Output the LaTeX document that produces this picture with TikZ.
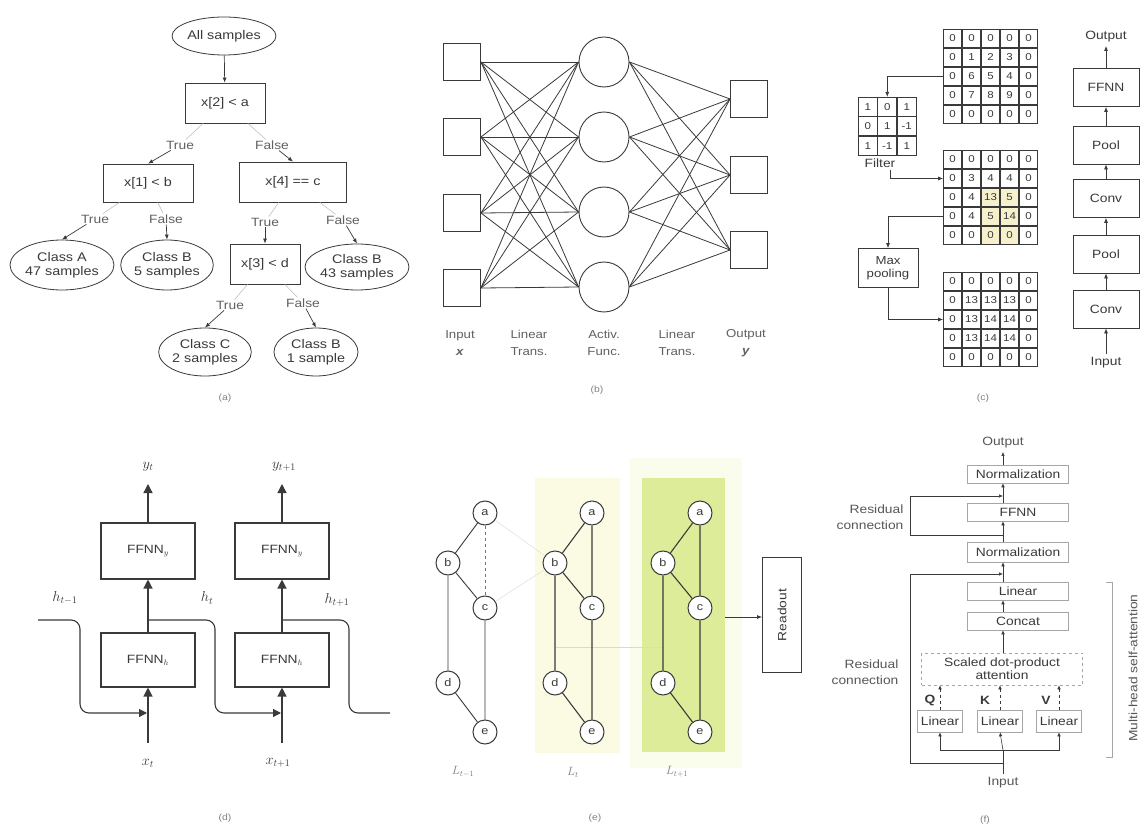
\documentclass[tikz,border=0pt]{standalone}
\usepackage{fontspec}
\setmainfont{Liberation Sans}[FakeStretch=1.15]
\usetikzlibrary{arrows.meta,shapes.geometric,calc}
\definecolor{ink}{HTML}{3A3A3A}
\definecolor{lightyel}{HTML}{FBFBE4}
\definecolor{lime}{HTML}{DDEC98}
\definecolor{limeglow}{HTML}{FAFCEC}
\definecolor{hlc}{HTML}{F6F1CC}
\begin{document}
\begin{tikzpicture}[x=1pt,y=-1pt,
  every node/.style={text=ink},
  tb/.style={draw=ink, line width=0.8pt, inner sep=0pt, align=center, font=\fontsize{12.5}{14}\selectfont},
  el/.style={ellipse, draw=ink, line width=0.8pt, inner sep=0pt, align=center, font=\fontsize{12.5}{14}\selectfont},
  tl/.style={inner sep=1pt, font=\fontsize{12}{14}\selectfont, text=ink!80},
  arr/.style={draw=ink, line width=0.7pt, -{Latex[length=5pt,width=4pt]}},
  fnt/.style={draw=gray!55, line width=0.5pt},
  sq/.style={draw=ink, line width=0.9pt, minimum size=37pt, inner sep=0pt},
  neu/.style={circle, draw=ink, line width=0.9pt, minimum size=50pt, inner sep=0pt},
  wire/.style={draw=ink, line width=0.8pt},
  capt/.style={align=center, font=\fontsize{11.5}{17}\selectfont, text=ink!80},
  gcell/.style={draw=ink, line width=0.6pt, minimum size=18pt, inner sep=0pt, font=\fontsize{10}{10}\selectfont},
  cbox/.style={draw=ink, line width=0.8pt, minimum width=66pt, minimum height=38pt, inner sep=0pt, font=\fontsize{12}{14}\selectfont},
  ctxt/.style={align=center, font=\fontsize{12}{14}\selectfont},
  dbox/.style={draw=ink, line width=1.1pt, minimum width=94pt, minimum height=56pt, inner sep=0pt, font=\fontsize{12}{14}\selectfont},
  dlab/.style={font=\fontsize{14}{15}\selectfont},
  fat/.style={draw=ink, line width=1.3pt, -{Triangle[length=9pt,width=9pt]}},
  hl2/.style={draw=ink, line width=1.1pt, rounded corners=9pt},
  gn/.style={circle, draw=ink, line width=1pt, fill=white, minimum size=24pt, inner sep=0pt, font=\fontsize{11}{11}\selectfont},
  ge/.style={draw=ink, line width=1.1pt},
  fb/.style={draw=gray!70, line width=0.6pt, minimum width=101pt, minimum height=18pt, inner sep=0pt, font=\fontsize{12}{13}\selectfont},
  ftxt/.style={font=\fontsize{12}{16}\selectfont, text=ink!85},
  farr/.style={draw=ink, line width=0.6pt, -{Latex[length=4pt,width=3.5pt]}},
  fl/.style={draw=ink, line width=0.6pt},
  plab/.style={font=\fontsize{9}{10}\selectfont, text=gray}
]
\useasboundingbox (0,0) rectangle (1143,826);
\fill[white] (0,0) rectangle (1143,826);

% ================= (a) decision tree =================
\node[el, minimum width=98pt, minimum height=38pt] (all) at (224,36) {All samples};
\node[tb, minimum width=80pt, minimum height=40pt] (q1) at (225,103) {x[2] < a};
\node[tb, minimum width=90pt, minimum height=38pt] (q2) at (148,183) {x[1] < b};
\node[tb, minimum width=107pt, minimum height=40pt] (q3) at (293,182) {x[4] == c};
\node[tb, minimum width=70pt, minimum height=40pt] (q4) at (265,264) {x[3] < d};
\node[el, minimum width=93pt, minimum height=50pt] (ca) at (62,265) {Class A\\47 samples};
\node[el, minimum width=90pt, minimum height=50pt] (cb5) at (167,265) {Class B\\5 samples};
\node[el, minimum width=88pt, minimum height=46pt] (cb43) at (357,267) {Class B\\43 samples};
\node[el, minimum width=87pt, minimum height=48pt] (cc) at (205,352) {Class C\\2 samples};
\node[el, minimum width=84pt, minimum height=48pt] (cb1) at (316,352) {Class B\\1 sample};
\node[tl] (t1) at (180,145) {True};
\node[tl] (f1) at (272,145) {False};
\node[tl] (t2) at (95,219) {True};
\node[tl] (f2) at (166,219) {False};
\node[tl] (t3) at (265,222) {True};
\node[tl] (f3) at (343,220) {False};
\node[tl] (t4) at (230,305) {True};
\node[tl] (f4) at (303,303) {False};
\draw[arr] (all) -- (q1);
\foreach \p/\l/\c in {q1/t1/q2, q1/f1/q3, q2/t2/ca, q2/f2/cb5, q3/t3/q4, q3/f3/cb43, q4/t4/cc, q4/f4/cb1} {
  \draw[fnt] (\p) -- (\l);
  \draw[arr] (\l) -- (\c.north);
}
\node[plab] (pa) at (225,398) {(a)};

% ================= (b) neural network =================
\foreach \i/\y in {1/62,2/137,3/213,4/288} \node[sq] (in\i) at (462,\y) {};
\foreach \i/\y in {1/62,2/137,3/212,4/287} \node[neu] (h\i) at (604,\y) {};
\foreach \i/\y in {1/99,2/175,3/250} \node[sq] (o\i) at (749,\y) {};
\foreach \i in {1,...,4} \foreach \j in {1,...,4} \draw[wire] (in\i.east) -- (h\j.west);
\foreach \j in {1,...,4} \foreach \k in {1,2,3} \draw[wire] (h\j.east) -- (o\k.west);
\node[capt] (lb1) at (460,343) {Input\\\textbf{\textit{x}}};
\node[capt] (lb2) at (529,343) {Linear\\Trans.};
\node[capt] (lb3) at (604,343) {Activ.\\Func.};
\node[capt] (lb4) at (677,343) {Linear\\Trans.};
\node[capt] (lb5) at (746,343) {Output\\\textbf{\textit{y}}};
\node[plab] (pb) at (597,390) {(b)};

% ================= (c) CNN =================
\fill[hlc] (981,188) rectangle (1019,245);
\foreach \row [count=\r] in {{0,0,0,0,0},{0,1,2,3,0},{0,6,5,4,0},{0,7,8,9,0},{0,0,0,0,0}} {
  \foreach \v [count=\c] in \row {
    \node[gcell] (ga-\r-\c) at ({943+19*(\c-0.5)},{29+19*(\r-0.5)}) {\v};
  }
}
\foreach \row [count=\r] in {{0,0,0,0,0},{0,3,4,4,0},{0,4,13,5,0},{0,4,5,14,0},{0,0,0,0,0}} {
  \foreach \v [count=\c] in \row {
    \node[gcell] (gb-\r-\c) at ({943+19*(\c-0.5)},{150+19*(\r-0.5)}) {\v};
  }
}
\foreach \row [count=\r] in {{0,0,0,0,0},{0,13,13,13,0},{0,13,14,14,0},{0,13,14,14,0},{0,0,0,0,0}} {
  \foreach \v [count=\c] in \row {
    \node[gcell] (gc-\r-\c) at ({943+19*(\c-0.5)},{272+19*(\r-0.5)}) {\v};
  }
}
\foreach \row [count=\r] in {{1,0,1},{0,1,-1},{1,-1,1}} {
  \foreach \v [count=\c] in \row {
    \node[gcell, minimum size=19pt] (fk-\r-\c) at ({858+19.5*(\c-0.5)},{97+19.5*(\r-0.5)}) {\v};
  }
}
\node[ctxt] (flab) at (880,163) {Filter};
\node[draw=ink, line width=0.8pt, minimum width=60pt, minimum height=39pt, inner sep=0pt, align=center, font=\fontsize{11.5}{13}\selectfont] (mp) at (888,268) {Max\\pooling};
\coordinate (fdown) at (890,170);
\draw[arr] (ga-3-1.west) -| (fk-1-2.north);
\draw[arr] (fdown) |- (gb-2-1.west);
\draw[arr] (gb-4-1.west) -| (mp.north);
\draw[arr] (mp.south) |- (gc-3-1.west);
\node[ctxt] (cout) at (1106,37) {Output};
\node[cbox] (cff) at (1106,87.5) {FFNN};
\node[cbox] (cp2) at (1106,145) {Pool};
\node[cbox] (cc2) at (1106,198.5) {Conv};
\node[cbox] (cp1) at (1106,254) {Pool};
\node[cbox] (cc1) at (1106,309) {Conv};
\node[ctxt] (cin) at (1106,363) {Input};
\draw[arr] (cin.north) -- (cc1.south);
\draw[arr] (cc1.north) -- (cp1.south);
\draw[arr] (cp1.north) -- (cc2.south);
\draw[arr] (cc2.north) -- (cp2.south);
\draw[arr] (cp2.north) -- (cff.south);
\draw[arr] (cff.north) -- (cout.south);
\node[plab] (pc) at (983,398) {(c)};

% ================= (d) RNN =================
\node[dbox] (fy1) at (148,551) {FFNN$_y$};
\node[dbox] (fy2) at (282,551) {FFNN$_y$};
\node[dbox, minimum height=54pt] (fh1) at (148,660) {FFNN$_h$};
\node[dbox, minimum height=54pt] (fh2) at (282,660) {FFNN$_h$};
\node[dlab] (yt1) at (148,467) {$y_t$};
\node[dlab] (yt2) at (284,467) {$y_{t+1}$};
\node[dlab] (xt1) at (148,763) {$x_t$};
\node[dlab] (xt2) at (278,763) {$x_{t+1}$};
\node[dlab] (ht0) at (65,598) {$h_{t-1}$};
\node[dlab] (ht1) at (207,598) {$h_t$};
\node[dlab] (ht2) at (337,600) {$h_{t+1}$};
\coordinate (ya1) at (148,484);
\coordinate (ya2) at (282,484);
\coordinate (xa1) at (148,743);
\coordinate (xa2) at (282,743);
\draw[fat] (fy1.north) -- (ya1);
\draw[fat] (fy2.north) -- (ya2);
\draw[fat] (fh1.north) -- (fy1.south);
\draw[fat] (fh2.north) -- (fy2.south);
\draw[fat] (xa1) -- (fh1.south);
\draw[fat] (xa2) -- (fh2.south);
\coordinate (hs) at (38,620);
\coordinate (j1) at (147,713);
\coordinate (b1) at (148,620);
\coordinate (j2) at (281,713);
\coordinate (b2) at (282,620);
\coordinate (he) at (390,713);
\draw[hl2, -{Triangle[length=8pt,width=8pt]}] (hs) -- (80,620) -- (80,713) -- (j1);
\draw[hl2, -{Triangle[length=8pt,width=8pt]}] (b1) -- (215,620) -- (215,713) -- (j2);
\draw[hl2] (b2) -- (349,620) -- (349,713) -- (he);
\node[plab] (pd) at (225,818) {(d)};

% ================= (e) GNN =================
\fill[lightyel] (535,478) rectangle (620,753);
\fill[limeglow] (630,458) rectangle (742,768);
\fill[lime] (642,478) rectangle (725,752);
\foreach \g/\dx in {1/0,2/107,3/215} {
  \node[gn] (g\g-a) at ({485+\dx},513) {a};
  \node[gn] (g\g-b) at ({448+\dx},563) {b};
  \node[gn] (g\g-c) at ({485+\dx},608) {c};
  \node[gn] (g\g-d) at ({448+\dx},683) {d};
  \node[gn] (g\g-e) at ({485+\dx},732) {e};
}
\draw[gray!25, line width=0.5pt] (g1-a) -- (g2-b);
\draw[gray!25, line width=0.5pt] (g1-c) -- (g2-b);
\draw[gray!30, line width=0.5pt] (556,647) -- (663,647);
\draw[ge, line width=0.9pt] (g1-c) -- (g1-b) -- (g1-a);
\draw[ge, line width=0.9pt] (g1-b) -- (g1-d) -- (g1-e) -- (g1-c);
\draw[ge, draw=ink!70, line width=0.7pt, dashed] (g1-a) -- (g1-c);
\foreach \g in {2,3} {
  \draw[ge] (g\g-c) -- (g\g-b) -- (g\g-a) -- (g\g-c);
  \draw[ge] (g\g-b) -- (g\g-d) -- (g\g-e) -- (g\g-c);
}
\node[draw=ink, line width=0.9pt, minimum width=39pt, minimum height=115pt, inner sep=0pt] (ro) at (782,615) {};
\node[rotate=90, font=\fontsize{12}{14}\selectfont] (rot) at (ro.center) {Readout};
\coordinate (g3o) at (725,617);
\draw[arr] (g3o) -- (g3o -| ro.west);
\node[font=\fontsize{12}{12}\selectfont, text=gray] (l1) at (463,772) {$L_{t-1}$};
\node[font=\fontsize{12}{12}\selectfont, text=gray] (l2) at (573,772) {$L_t$};
\node[font=\fontsize{12}{12}\selectfont, text=gray] (l3) at (677,772) {$L_{t+1}$};
\node[plab] (pe) at (595,818) {(e)};

% ================= (f) Transformer =================
\node[ftxt] (fout) at (1003,443) {Output};
\node[fb] (nm1) at (1018,474) {Normalization};
\node[fb] (ffn) at (1018,512) {FFNN};
\node[fb, minimum height=20pt] (nm2) at (1018,552) {Normalization};
\node[fb] (lin) at (1018,591) {Linear};
\node[fb] (con) at (1018,621) {Concat};
\node[fb, dashed, minimum width=161pt, minimum height=32pt, align=center, font=\fontsize{12}{13}\selectfont] (att) at (1002,669) {Scaled dot-product\\attention};
\node[fb, minimum width=45pt, minimum height=22pt] (lq) at (940,721) {Linear};
\node[fb, minimum width=45pt, minimum height=22pt] (lk) at (1000,721) {Linear};
\node[fb, minimum width=45pt, minimum height=22pt] (lv) at (1059,721) {Linear};
\node[font=\bfseries\fontsize{12}{13}\selectfont] (qq) at (930,700) {Q};
\node[font=\bfseries\fontsize{12}{13}\selectfont] (kk) at (985,700) {K};
\node[font=\bfseries\fontsize{12}{13}\selectfont] (vv) at (1046,700) {V};
\node[ftxt] (fin) at (1003,783) {Input};
\coordinate (r1a) at (1003,496);
\coordinate (r1b) at (1003,535);
\coordinate (r1l) at (910,515);
\coordinate (r2a) at (1003,574);
\coordinate (r2b) at (1003,763);
\coordinate (r2l) at (910,660);
\coordinate (ij) at (1003,750);
\draw[farr] (nm1.north -| fout) -- (fout.south);
\draw[farr] (r1a) -- (nm1.south -| r1a);
\draw[fl] (ffn.north -| r1a) -- (r1a);
\draw[farr] (nm2.north -| r1a) -- (ffn.south -| r1a);
\draw[farr] (r1b) -| (r1l) |- (r1a);
\draw[farr] (r2a) -- (nm2.south -| r2a);
\draw[fl] (lin.north -| r2a) -- (r2a);
\draw[farr] (con.north -| r2a) -- (lin.south -| r2a);
\draw[farr] (att.north -| r2a) -- (con.south -| r2a);
\draw[farr, dashed] (lq.north) -- (lq.north |- att.south);
\draw[farr, dashed] (lk.north) -- (lk.north |- att.south);
\draw[farr, dashed] (lv.north) -- (lv.north |- att.south);
\draw[fl] (fin.north) -- (ij);
\draw[farr] (ij) -| (lq.south);
\draw[farr] (ij) -| (lv.south);
\draw[farr] (ij) -- (lk.south);
\draw[farr] (r2b) -| (r2l) |- (r2a);
\node[ftxt, align=right] (rc1) at (870,517) {Residual\\connection};
\node[ftxt, align=right] (rc2) at (865,672) {Residual\\connection};
\coordinate (bt) at (1112,582);
\coordinate (bb) at (1112,757);
\draw[gray!70, line width=0.7pt] ([xshift=-6pt]bt) -- (bt) -- (bb) -- ([xshift=-6pt]bb);
\node[ftxt, rotate=90] (mh) at (1133,668) {Multi-head self-attention};
\node[plab] (pf) at (985,820) {(f)};
\end{tikzpicture}
\end{document}
